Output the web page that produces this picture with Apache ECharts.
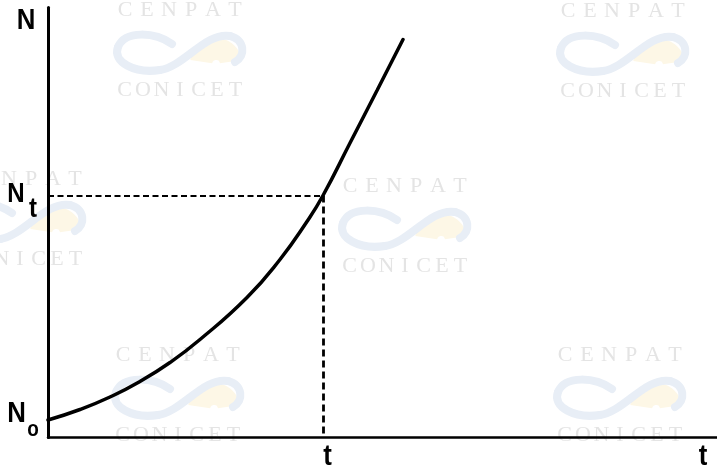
<!DOCTYPE html>
<html>
<head>
<meta charset="utf-8">
<title>Crecimiento exponencial N(t)</title>
<script src="https://cdn.jsdelivr.net/npm/echarts/dist/echarts.min.js"></script>
<style>
  html, body { margin: 0; padding: 0; background: #fff; }
  #chart { width: 717px; height: 469px; }
</style>
</head>
<body>
<div id="chart"></div>
<script>
// Growth curve N(t) in arbitrary units
const timeValues = [0, 32, 62, 92, 122, 152, 199, 232, 259, 275, 302, 329, 355];
const sizeValues = [17.5, 28, 40.5, 56, 75, 98, 140, 178, 216, 242, 294.5, 347, 398];

// Reference instant t and the size reached at it
const markTime = 275;
const markSize = 242;
const startSize = sizeValues[0];

// Axis extents and the value at which the axis name "t" sits
const timeMax = 669;
const sizeMax = 430;
const axisEndTime = 655;

// Watermark tiles: centre x and the row of the top word
const tileCentres = [[180, 10], [623, 11], [405, 186], [20, 179], [178, 355], [620, 355]];
const wordTop = 'CENPAT';
const wordBottom = 'CONICET';

const LABEL_FONT = '"Liberation Sans", Arial, sans-serif';
const chart = echarts.init(document.getElementById('chart'), null, { renderer: 'canvas' });

chart.setOption({
  animation: false,
  backgroundColor: '#ffffff',
  grid: { left: 48, right: 0, top: 7.5, bottom: 31.5 },
  xAxis: {
    type: 'value', min: 0, max: timeMax,
    axisLine: { show: true, onZero: false, lineStyle: { color: '#000', width: 2.5 } },
    axisTick: { show: false }, axisLabel: { show: false }, splitLine: { show: false }
  },
  yAxis: {
    type: 'value', min: 0, max: sizeMax,
    axisLine: { show: true, onZero: false, lineStyle: { color: '#000', width: 3 } },
    axisTick: { show: false }, axisLabel: { show: false }, splitLine: { show: false }
  },
  series: [{
    type: 'line',
    data: timeValues.map((t, i) => [t, sizeValues[i]]),
    smooth: 0.5,
    showSymbol: false,
    lineStyle: { color: '#000', width: 3.5, cap: 'round' },
    z: 5,
    markLine: {
      silent: true, symbol: 'none', label: { show: false }, animation: false,
      data: [
        [{ coord: [0, markSize], lineStyle: { color: '#000', width: 2, type: [6, 3.5] } },
         { coord: [markTime, markSize] }],
        [{ coord: [markTime, markSize], lineStyle: { color: '#000', width: 2.8, type: [7, 4] } },
         { coord: [markTime, 0] }]
      ]
    }
  }]
});

// Faint institutional watermark repeated over the sheet
const swoosh = [
  [-8, -8, -25, -20, -55, -22, -62, -5],
  [-62, -5, -68, 10, -45, 22, -20, 18],
  [-20, 18, 5, 14, 25, -20, 50, -16],
  [50, -16, 65, -12, 66, 4, 55, 10]
];
function watermark(cx, cy) {
  const els = [];
  const letters = (word, pitch, y) => {
    const n = word.length;
    for (let i = 0; i < n; i++) {
      els.push({
        type: 'text', z: -10, silent: true,
        style: {
          text: word[i], x: cx + (i - (n - 1) / 2) * pitch, y: y,
          align: 'center', verticalAlign: 'middle',
          font: '22px "Liberation Serif", "DejaVu Serif", serif', fill: '#e4e4e4'
        }
      });
    }
  };
  letters(wordTop, 22, cy);
  letters(wordBottom, 18.5, cy + 80);
  els.push({
    type: 'sector', z: -11, silent: true,
    shape: { cx: cx + 36, cy: cy + 54, r0: 4, r: 26, startAngle: Math.PI * 1.05, endAngle: Math.PI * 1.95 },
    style: { fill: '#fdf7e6' }
  });
  swoosh.forEach(s => {
    els.push({
      type: 'bezierCurve', z: -10, silent: true, x: cx, y: cy + 42,
      shape: { x1: s[0], y1: s[1], cpx1: s[2], cpy1: s[3], cpx2: s[4], cpy2: s[5], x2: s[6], y2: s[7] },
      style: { fill: null, stroke: '#e8eef6', lineWidth: 8, lineCap: 'round' }
    });
  });
  return els;
}

// Bold label, slightly condensed horizontally
function text(str, x, y, size) {
  return {
    type: 'text', z: 20, silent: true, x: x, y: y, scaleX: 0.86,
    style: { text: str, x: 0, y: 0, align: 'center', verticalAlign: 'middle',
             font: 'bold ' + size + 'px ' + LABEL_FONT, fill: '#000' }
  };
}

const pMark = chart.convertToPixel({ gridIndex: 0 }, [markTime, markSize]);
const pStart = chart.convertToPixel({ gridIndex: 0 }, [0, startSize]);
const pTop = chart.convertToPixel({ gridIndex: 0 }, [0, sizeMax]);
const pEnd = chart.convertToPixel({ gridIndex: 0 }, [axisEndTime, 0]);

const elements = [];
tileCentres.forEach(([x, y]) => elements.push(...watermark(x, y)));
elements.push(
  text('N', pTop[0] - 22, pTop[1] + 13, 30),
  text('N', pMark[0] - 307, pMark[1] - 1, 28),
  text('t', pMark[0] - 290, pMark[1] + 14, 28),
  text('N', pStart[0] - 31.5, pStart[1] - 6, 30),
  text('o', pStart[0] - 15, pStart[1] + 10, 22),
  text('t', pMark[0] + 4.5, pStart[1] + 37, 30),
  text('t', pEnd[0], pEnd[1] + 19, 30)
);
chart.setOption({ graphic: { elements: elements } });
</script>
</body>
</html>
